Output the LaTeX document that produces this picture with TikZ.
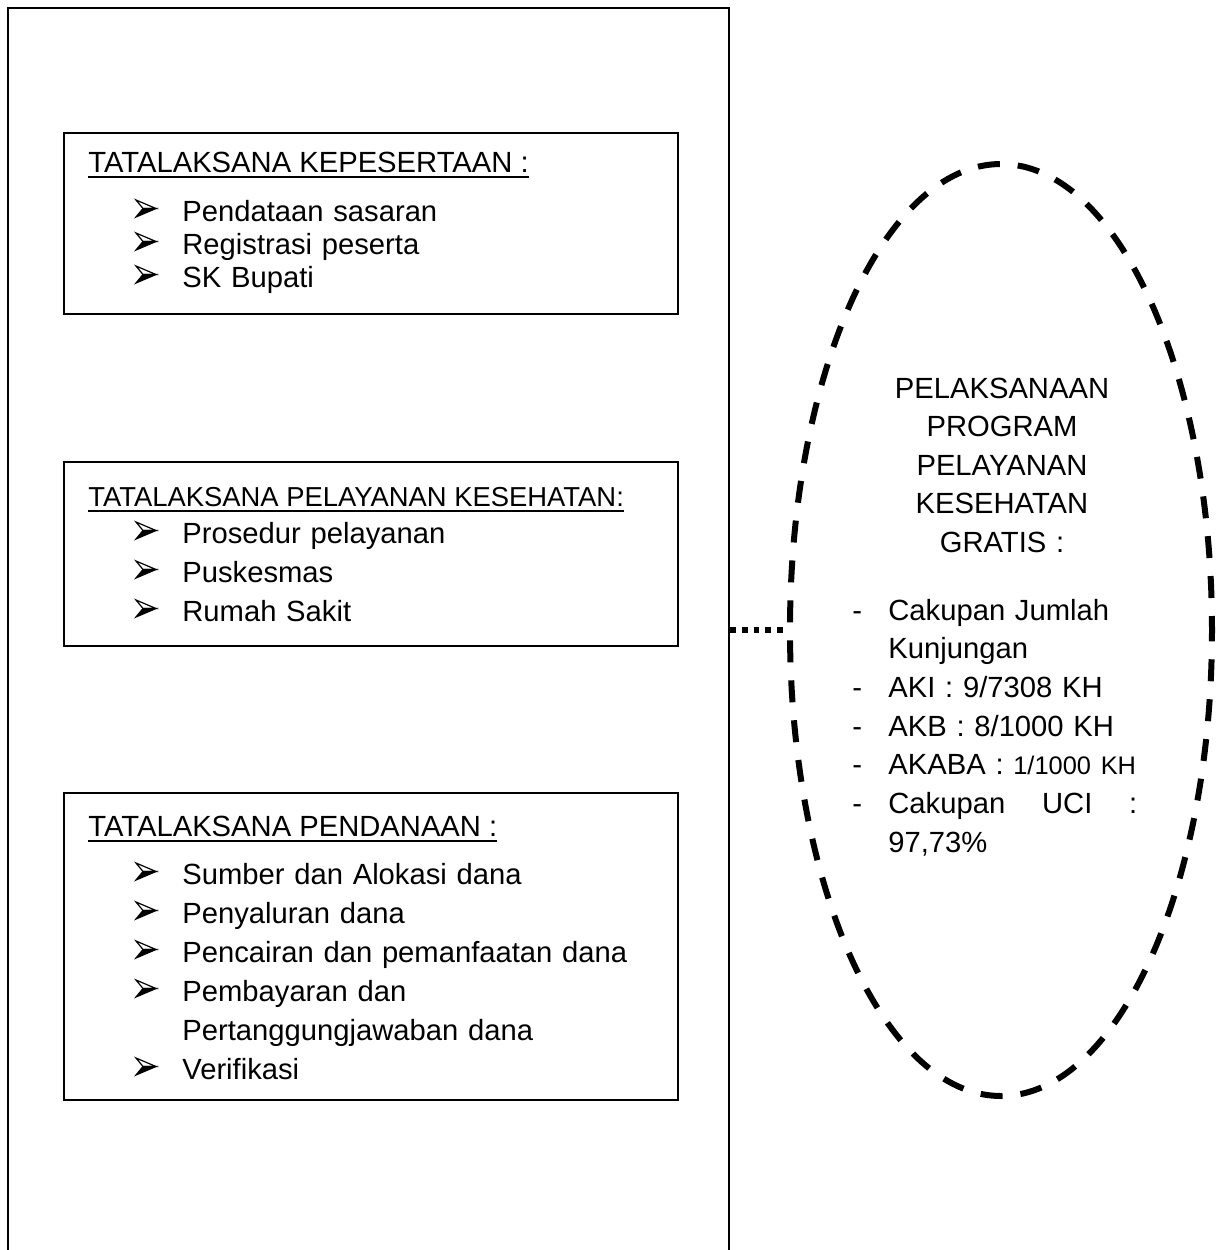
\documentclass[tikz,border=0pt]{standalone}
\usepackage{fontspec}
\setmainfont{Liberation Sans}
\usetikzlibrary{shapes.geometric}
\newcommand\garis[1]{\setbox0=\hbox{#1}\rlap{\rule[-2.9pt]{\wd0}{0.9pt}}\box0}
\newcommand\strip[1]{\makebox[18pt][l]{-}#1}
\begin{document}
\begin{tikzpicture}[x=0.5pt, y=-0.5pt,
  kotak/.style={draw, line width=1pt, minimum width=307pt, inner sep=0pt},
  judul/.style={anchor=base west, inner sep=0pt, font=\fontsize{14.6}{19}\selectfont},
  daftar/.style={anchor=base west, inner sep=0pt, text width=240pt, align=left},
  panah/.pic={
    \draw[line width=0.6pt, fill=white] (0,-21) -- (20,-12.5) -- (7,-12.5) -- cycle;
    \filldraw[line width=0.6pt] (0,-4) -- (20,-12.5) -- (7,-12.5) -- cycle;
  }]
  \path[use as bounding box, clip] (0,0) rectangle (1221,1250);
  \node[draw, line width=1pt, minimum width=360.5pt, minimum height=646pt, inner sep=0pt] (kerangka) at (368.5,654) {};
  % kepesertaan
  \node[kotak, minimum height=90.5pt] (kepesertaan) at (371,223) {};
  \node[judul] (kepesertaan-judul) at (88,172) {\garis{TATALAKSANA KEPESERTAAN :}};
  \node[daftar, font=\fontsize{14.6}{16.5}\selectfont] (kepesertaan-isi) at (182,221)
    {Pendataan sasaran\\Registrasi peserta\\SK Bupati};
  \foreach \y in {221,254,287} \pic at (136,\y) {panah};
  % pelayanan kesehatan
  \node[kotak, minimum height=92pt] (pelayanan) at (371,554) {};
  \node[judul, font=\fontsize{13.7}{19}\selectfont] (pelayanan-judul) at (88,506) {\garis{TATALAKSANA PELAYANAN KESEHATAN:}};
  \node[daftar, font=\fontsize{14.6}{19.5}\selectfont] (pelayanan-isi) at (182,543)
    {Prosedur pelayanan\\Puskesmas\\Rumah Sakit};
  \foreach \y in {543,582,621} \pic at (136,\y) {panah};
  % pendanaan
  \node[kotak, minimum height=153.5pt] (pendanaan) at (371,946.5) {};
  \node[judul] (pendanaan-judul) at (88,836) {\garis{TATALAKSANA PENDANAAN :}};
  \node[daftar, font=\fontsize{14.6}{19.5}\selectfont] (pendanaan-isi) at (182,884)
    {Sumber dan Alokasi dana\\Penyaluran dana\\Pencairan dan pemanfaatan dana\\
     Pembayaran dan\\Pertanggungjawaban dana\\Verifikasi};
  \foreach \y in {884,923,962,1001,1079} \pic at (136,\y) {panah};
  % pelaksanaan program
  \node[ellipse, draw, line width=3pt, dash pattern=on 11pt off 9pt, dash phase=4pt, minimum width=211pt, minimum height=466pt, inner sep=0pt] (pelaksanaan) at (1001,630) {};
  \node[anchor=base, inner sep=0pt, text width=130pt, align=center, font=\fontsize{14.6}{19.25}\selectfont] (pelaksanaan-judul) at (1002,398)
    {PELAKSANAAN\\PROGRAM\\PELAYANAN\\KESEHATAN\\GRATIS :};
  \node[anchor=base west, inner sep=0pt, text width=145pt, align=left, font=\fontsize{14.6}{19.35}\selectfont] (capaian) at (852,620)
    {\strip{Cakupan Jumlah}\\\hspace*{18pt}Kunjungan\\\strip{AKI : 9/7308 KH}\\\strip{AKB : 8/1000 KH}\\
     \strip{AKABA : {\fontsize{12.7}{19}\selectfont 1/1000 KH}}\\\strip{\makebox[124.5pt][s]{Cakupan\hfill UCI\hfill :}}\\
     \hspace*{18pt}97,73\%};
  \draw[line width=2.7pt, dash pattern=on 2.9pt off 3pt] (kerangka.east |- pelaksanaan.west) -- (pelaksanaan.west);
\end{tikzpicture}
\end{document}
